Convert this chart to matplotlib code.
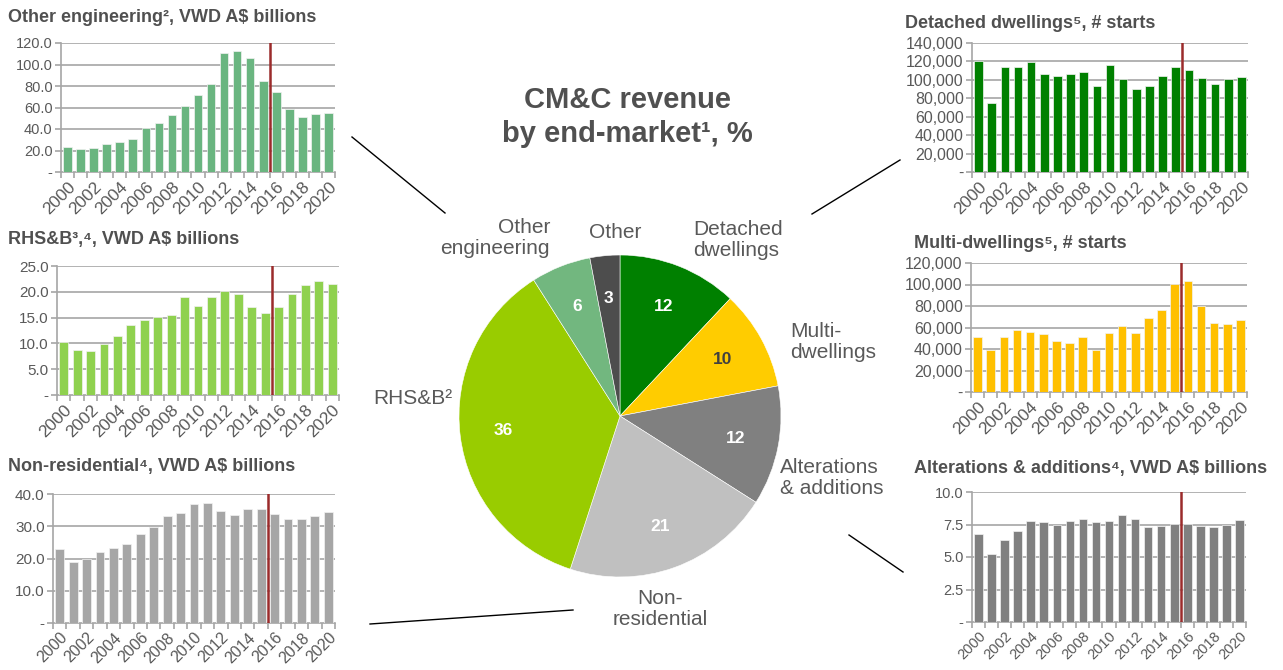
import matplotlib
matplotlib.use('Agg')
import matplotlib.pyplot as plt
from matplotlib.lines import Line2D
from matplotlib.ticker import FuncFormatter

plt.rcParams['font.family'] = ['Liberation Sans', 'DejaVu Sans']

# pie data
pie_labels = ['Detached dwellings', 'Multi-dwellings', 'Alterations & additions',
              'Non-residential', 'RHS&B', 'Other engineering', 'Other']
pie_values = [12, 10, 12, 21, 36, 6, 3]
pie_colors = ['#008000', '#FFCC00', '#808080', '#C0C0C0', '#99CC00', '#72B77F', '#4D4D4D']

years = list(range(2000, 2021))
year_labels = [str(y) if y % 2 == 0 else '' for y in years]

other_eng = [23.6, 21.4, 22.4, 26.1, 28.3, 30.4, 40.7, 45.7, 53.4, 61.5, 71.4,
             81.4, 110.6, 112.7, 106.2, 84.8, 74.8, 59.0, 51.2, 54.0, 55.0]
rhsb = [10.2, 8.8, 8.5, 9.9, 11.4, 13.6, 14.5, 15.2, 15.5, 19.0, 17.2,
        18.9, 20.2, 19.5, 17.0, 15.9, 17.0, 19.6, 21.4, 22.1, 21.5]
non_res = [22.9, 18.9, 20.0, 22.1, 23.4, 24.4, 27.5, 29.9, 33.1, 34.1, 37.0,
           37.2, 34.8, 33.6, 35.5, 35.3, 33.7, 32.2, 32.4, 33.1, 34.5]
detached = [120000, 74700, 114300, 113500, 119300, 106300, 104500, 106600, 108100, 93200, 115700,
            100800, 90000, 93600, 104500, 113900, 111000, 101600, 95400, 100800, 103400]
multi = [51300, 39500, 50700, 58100, 56000, 53800, 47900, 45700, 51300, 39500, 55000,
         61500, 55000, 69300, 76200, 100400, 102900, 80200, 64300, 63400, 66800]
alterations = [6.78, 5.23, 6.29, 7.00, 7.76, 7.73, 7.50, 7.76, 7.96, 7.68, 7.76,
               8.25, 7.91, 7.32, 7.37, 7.55, 7.55, 7.37, 7.32, 7.50, 7.84]

W, H = 1283, 670
TXT = '#595959'
GRID = '#A6A6A6'

fig = plt.figure(figsize=(W / 100, H / 100), dpi=100)


def box(x0, y0, x1, y1):
    return [x0 / W, 1 - y1 / H, (x1 - x0) / W, (y1 - y0) / H]


def fx(px):
    return px / W


def fy(py):
    return 1 - py / H


def fmt_dec(v, pos):
    return '-' if v == 0 else f'{v:.1f}'


def fmt_int(v, pos):
    return '-' if v == 0 else f'{v:,.0f}'


def bar_panel(rect, values, color, ymax, step, fmt, title, title_xy, xfs=12.5, yfs=10.5):
    ax = fig.add_axes(box(*rect))
    x = list(range(len(values)))
    ax.bar(x, values, width=0.66, color=color, edgecolor='#F2F2F2', linewidth=0.5, zorder=3)
    ax.set_xlim(-0.5, len(values) - 0.5)
    ax.set_ylim(0, ymax)
    ticks = [i * step for i in range(int(round(ymax / step)) + 1)]
    ax.set_yticks(ticks)
    ax.yaxis.set_major_formatter(FuncFormatter(fmt))
    for t in ticks[1:]:
        ax.axhline(t, color=GRID, lw=1.2, zorder=1)
    ax.axvline(15.5, color='#9B2B2B', lw=1.8, zorder=4)
    for s in ['top', 'right']:
        ax.spines[s].set_visible(False)
    for s in ['left', 'bottom']:
        ax.spines[s].set_color(GRID)
        ax.spines[s].set_linewidth(1.2)
    ax.set_xticks(x)
    ax.set_xticklabels(year_labels, rotation=45, ha='right', rotation_mode='anchor')
    ax.set_xticks([i - 0.5 for i in range(len(values) + 1)], minor=True)
    ax.tick_params(axis='x', which='major', length=0, labelsize=xfs, labelcolor=TXT, pad=5)
    ax.tick_params(axis='x', which='minor', length=4, color=GRID, width=1.2)
    ax.tick_params(axis='y', length=4, color=GRID, width=1.2, labelsize=yfs, labelcolor=TXT, pad=2)
    fig.text(fx(title_xy[0]), fy(title_xy[1]), title, fontsize=13, fontweight='bold',
             color='#505050', va='center', ha='left')
    return ax


bar_panel((61, 43, 335, 172), other_eng, '#6AB580', 120, 20, fmt_dec,
          'Other engineering\u00b2, VWD A$ billions', (8, 18))
bar_panel((57, 266, 339, 395), rhsb, '#8FD14F', 25, 5, fmt_dec,
          'RHS&B\u00b3\u02ce\u2074, VWD A$ billions'.replace('\u02ce', ','), (8, 240), yfs=11)
bar_panel((53, 494, 335, 623), non_res, '#A6A6A6', 40, 10, fmt_dec,
          'Non-residential\u2074, VWD A$ billions', (8, 466), xfs=11.5, yfs=11)
bar_panel((972, 43, 1248, 172), detached, '#008000', 140000, 20000, fmt_int,
          'Detached dwellings\u2075, # starts', (905, 23), yfs=11.5)
bar_panel((971, 263, 1247, 392), multi, '#FFC000', 120000, 20000, fmt_int,
          'Multi-dwellings\u2075, # starts', (914, 243), yfs=11.5)
bar_panel((972, 492, 1246, 622), alterations, '#808080', 10, 2.5, fmt_dec,
          'Alterations & additions\u2074, VWD A$ billions', (914, 469), xfs=10.5)

# pie in the middle
pax = fig.add_axes(box(459, 255, 781, 577))
wedges, _, autotexts = pax.pie(pie_values, colors=pie_colors, startangle=90, counterclock=False,
                               autopct=lambda p: f'{p:.0f}', pctdistance=0.73,
                               wedgeprops=dict(edgecolor='white', linewidth=0.4),
                               textprops=dict(fontsize=12.5, fontweight='bold', color='white'))
autotexts[1].set_color('#404040')
pax.set_aspect('auto')
pax.set_xlim(-1, 1)
pax.set_ylim(-1, 1)
pax.axis('off')

fig.text(fx(627), fy(100), 'CM&C revenue', fontsize=21, fontweight='bold', color='#505050',
         ha='center', va='center')
fig.text(fx(627), fy(134), 'by end-market\u00b9, %', fontsize=21, fontweight='bold', color='#505050',
         ha='center', va='center')

lab = dict(fontsize=15, color=TXT, linespacing=1.1)
fig.text(fx(693), fy(240), 'Detached\ndwellings', ha='left', va='center', **lab)
fig.text(fx(790), fy(342), 'Multi-\ndwellings', ha='left', va='center', **lab)
fig.text(fx(780), fy(478), 'Alterations\n& additions', ha='left', va='center', **lab)
fig.text(fx(660), fy(609), 'Non-\nresidential', ha='center', va='center', **lab)
fig.text(fx(452), fy(398), 'RHS&B\u00b2', ha='right', va='center', **lab)
fig.text(fx(550), fy(238), 'Other\nengineering', ha='right', va='center', multialignment='right', **lab)
fig.text(fx(615), fy(233), 'Other', ha='center', va='center', **lab)

# connector lines
for (x0, y0), (x1, y1) in [((352, 137), (445, 213)), ((812, 214), (900, 160)),
                           ((849, 535), (903, 572)), ((370, 624), (573, 610))]:
    fig.add_artist(Line2D([fx(x0), fx(x1)], [fy(y0), fy(y1)], color='black', lw=1,
                          transform=fig.transFigure))

plt.savefig('out.png', dpi=100)
